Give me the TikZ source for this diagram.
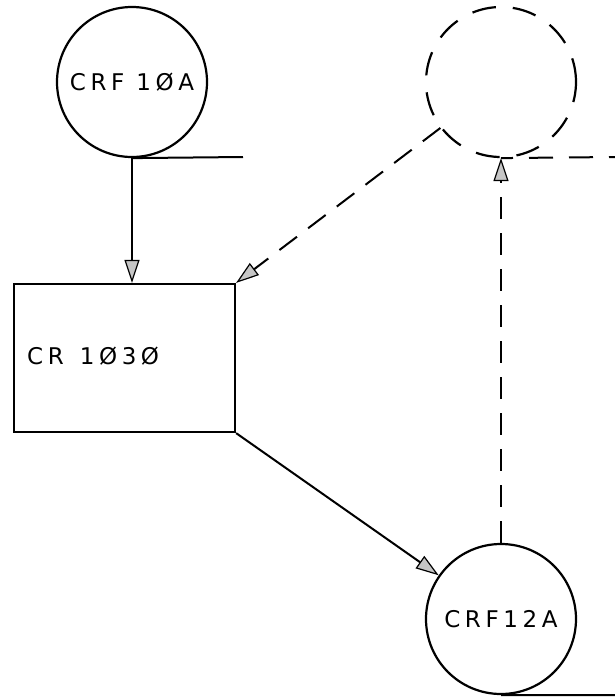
\documentclass[tikz,border=0pt]{standalone}
\usepackage{fontspec}
\setsansfont{DejaVu Sans}[LetterSpace=20]
\usetikzlibrary{positioning,arrows.meta}

\begin{document}
\begin{tikzpicture}[x=1pt, y=-1pt,
  crf/.style={draw, circle, minimum size=150pt, inner sep=0pt, line width=2.2pt,
              font=\sffamily\fontsize{23}{27}\selectfont},
  ghost/.style={crf, dash pattern=on 24pt off 17pt},
  proc/.style={draw, minimum width=221pt, minimum height=148pt, line width=2.2pt},
  lbl/.style={font=\sffamily\fontsize{23}{27}\selectfont, anchor=west, inner sep=0pt},
  arr/.style={-{Triangle[length=23pt, width=15pt, fill=gray!45, line width=1.2pt]},
              line width=2pt},
  darr/.style={arr, dash pattern=on 22pt off 14pt},
  ln/.style={line width=2pt},
  dln/.style={ln, dash pattern=on 24pt off 16pt, dash phase=12pt},
]
\useasboundingbox (0,0) rectangle (615,697);

% circles and the process box
\node[crf] (c10) at (132,82) {CRF 1ØA};
\node[ghost] (dc) at (501,82) {};
\node[proc] (cr) at (124.5,358) {};
\node[lbl] (crt) at (27,356) {CR\hspace{16pt}1Ø3Ø};
\node[crf] (c12) at (501,619) {CRF12A};

% loose ends
\coordinate (e1) at (243,157);
\coordinate (e2) at (615,157);
\coordinate (e3) at (615,695);

\draw[ln] (c10.south) -- (e1);
\draw[arr] (c10.south) -- (c10.south |- cr.north);
\draw[arr] (cr.south east) -- (c12);
\draw[darr] (dc) -- (cr.north east);
\draw[darr] (c12.north) -- (dc.south);
\draw[dln] (dc.south) -- (e2);
\draw[ln] (c12.south) -- (e3);
\end{tikzpicture}
\end{document}
